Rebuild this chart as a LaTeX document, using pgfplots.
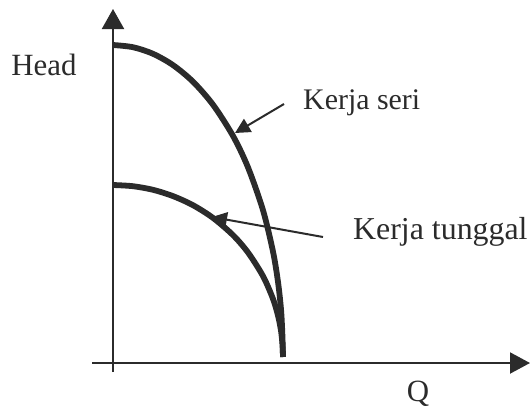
\documentclass[border=0pt]{standalone}
\usepackage{pgfplots}
\pgfplotsset{compat=1.18}
\usetikzlibrary{arrows.meta}
\usepackage{fontspec}
\setmainfont{Liberation Serif}
\definecolor{ink}{rgb}{0.17,0.17,0.17}

\begin{document}
\begin{tikzpicture}
\begin{axis}[
  hide axis,
  x=1bp, y=1bp,
  xmin=-113, xmax=419,
  ymin=-45, ymax=363,
  clip=false,
]
% axes
\addplot[ink, line width=2bp, -{Triangle[length=20bp,width=21bp]}]
  coordinates {(-21,0) (417,0)};
\addplot[ink, line width=2bp, -{Triangle[length=20bp,width=22bp]}]
  coordinates {(0,-9) (0,354)};

% series operation (kerja seri)
\addplot[ink, line width=5.8bp, smooth, tension=0.5] coordinates {
  (0,318) (20,315.8) (40,309.2) (60,297.9) (80,281.3) (100,258.3)
  (120,227.1) (135,195.6) (150,152.8) (160,111.4) (165,81.1)
  (168,53.7) (169.3,30) (170,6)
};

% single operation (kerja tunggal)
\addplot[ink, line width=5.8bp, smooth, tension=0.5] coordinates {
  (0,178) (20,176.8) (40,173.2) (60,166.9) (80,157.8) (100,145.1)
  (120,127.9) (135,110.5) (150,86.9) (160,64.1) (165,47.4)
  (168,32.3) (169.5,18) (170,6)
};

% labels
\node[anchor=base, font=\fontsize{31}{31}\selectfont, text=ink] at (axis cs:-69,288) {Head};
\node[anchor=base, font=\fontsize{31}{31}\selectfont, text=ink] at (axis cs:305,-38) {Q};
\node[anchor=base west, inner sep=0pt, font=\fontsize{30}{30}\selectfont, text=ink] at (axis cs:190,254) {Kerja seri};
\node[anchor=base west, inner sep=0pt, font=\fontsize{32}{32}\selectfont, text=ink] at (axis cs:240,124) {Kerja tunggal};

% pointers to the curves
\draw[ink, line width=2bp, -{Triangle[length=15bp,width=15bp]}]
  (axis cs:171,259) -- (axis cs:122,230);
\draw[ink, line width=2bp, -{Triangle[length=15bp,width=15bp]}]
  (axis cs:210,126) -- (axis cs:99,146);
\end{axis}
\pgfresetboundingbox
\path (current axis.south west) rectangle (current axis.north east);
\end{tikzpicture}
\end{document}
